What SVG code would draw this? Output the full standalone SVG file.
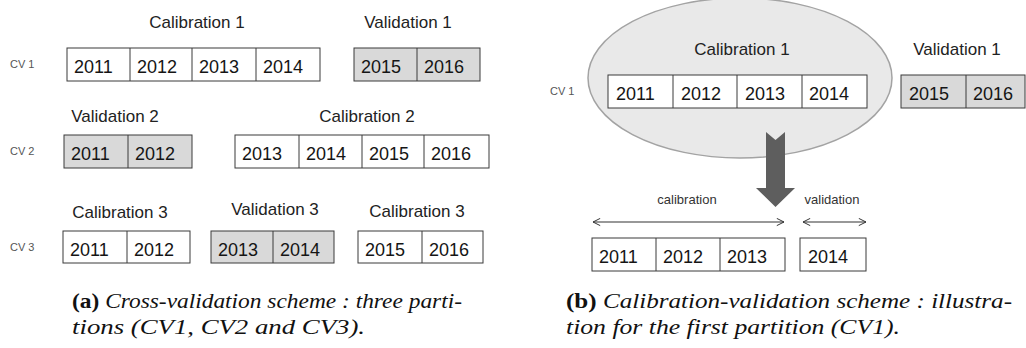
<svg xmlns="http://www.w3.org/2000/svg" width="1026" height="348" viewBox="0 0 1026 348">
<style>
.bx{fill:#fff;stroke:#3a3a3a;stroke-width:1}
.gx{fill:#d9d9d9;stroke:#3a3a3a;stroke-width:1}
.dv{stroke:#3a3a3a;stroke-width:1}
.yr{font-family:"Liberation Sans",Arial,sans-serif;font-size:18px;fill:#151515}
.lb{font-family:"Liberation Sans",Arial,sans-serif;font-size:17px;fill:#222}
.sm{font-family:"Liberation Sans",Arial,sans-serif;font-size:13px;fill:#333}
.cv{font-family:"Liberation Sans",Arial,sans-serif;font-size:11px;fill:#555}
.cap{font-family:"Liberation Serif","Times New Roman",serif;font-size:20px;fill:#111;font-style:italic}
.b{font-weight:bold;font-style:normal}
.thin{stroke:#333;stroke-width:1.1;fill:none}
</style>
<defs>
<marker id="chev" viewBox="0 0 10 10" refX="9" refY="5" markerWidth="9" markerHeight="9" markerUnits="userSpaceOnUse" orient="auto-start-reverse">
<path d="M1,1 L9,5 L1,9" fill="none" stroke="#333" stroke-width="1.1"/>
</marker>
</defs>
<rect width="1026" height="348" fill="#fff"/>

<!-- Panel (a) -->
<g id="cv-labels-a">
<text class="cv" x="10" y="68">CV 1</text>
<text class="cv" x="10" y="155">CV 2</text>
<text class="cv" x="10" y="251">CV 3</text>
</g>

<g id="cal1">
<text class="lb" x="197" y="28" text-anchor="middle">Calibration 1</text>
<rect class="bx" x="67" y="48" width="253" height="33"/>
<line class="dv" x1="130" y1="48" x2="130" y2="81"/>
<line class="dv" x1="192" y1="48" x2="192" y2="81"/>
<line class="dv" x1="256" y1="48" x2="256" y2="81"/>
<text class="yr" x="74" y="73">2011</text>
<text class="yr" x="137" y="73">2012</text>
<text class="yr" x="199" y="73">2013</text>
<text class="yr" x="263" y="73">2014</text>
</g>

<g id="val1">
<text class="lb" x="408" y="28" text-anchor="middle">Validation 1</text>
<rect class="gx" x="354" y="48" width="126" height="33"/>
<line class="dv" x1="417" y1="48" x2="417" y2="81"/>
<text class="yr" x="361" y="73">2015</text>
<text class="yr" x="424" y="73">2016</text>
</g>

<g id="val2">
<text class="lb" x="115" y="122" text-anchor="middle">Validation 2</text>
<rect class="gx" x="64" y="135" width="128" height="33"/>
<line class="dv" x1="128" y1="135" x2="128" y2="168"/>
<text class="yr" x="71" y="160">2011</text>
<text class="yr" x="135" y="160">2012</text>
</g>

<g id="cal2">
<text class="lb" x="367" y="122" text-anchor="middle">Calibration 2</text>
<rect class="bx" x="235" y="135" width="254" height="33"/>
<line class="dv" x1="299" y1="135" x2="299" y2="168"/>
<line class="dv" x1="362" y1="135" x2="362" y2="168"/>
<line class="dv" x1="424" y1="135" x2="424" y2="168"/>
<text class="yr" x="242" y="160">2013</text>
<text class="yr" x="306" y="160">2014</text>
<text class="yr" x="369" y="160">2015</text>
<text class="yr" x="431" y="160">2016</text>
</g>

<g id="cal3a">
<text class="lb" x="120" y="218" text-anchor="middle">Calibration 3</text>
<rect class="bx" x="63" y="231" width="127" height="32"/>
<line class="dv" x1="127" y1="231" x2="127" y2="263"/>
<text class="yr" x="70" y="256">2011</text>
<text class="yr" x="134" y="256">2012</text>
</g>

<g id="val3">
<text class="lb" x="275" y="215" text-anchor="middle">Validation 3</text>
<rect class="gx" x="211" y="231" width="123" height="32"/>
<line class="dv" x1="273" y1="231" x2="273" y2="263"/>
<text class="yr" x="218" y="256">2013</text>
<text class="yr" x="280" y="256">2014</text>
</g>

<g id="cal3b">
<text class="lb" x="417" y="217" text-anchor="middle">Calibration 3</text>
<rect class="bx" x="358" y="231" width="125" height="32"/>
<line class="dv" x1="422" y1="231" x2="422" y2="263"/>
<text class="yr" x="365" y="256">2015</text>
<text class="yr" x="429" y="256">2016</text>
</g>

<g id="caption-a">
<text class="cap" x="72" y="308" textLength="390" lengthAdjust="spacingAndGlyphs"><tspan class="b">(a)</tspan> Cross-validation scheme :  three parti-</text>
<text class="cap" x="72" y="334" textLength="293" lengthAdjust="spacingAndGlyphs">tions (CV1, CV2 and CV3).</text>
</g>

<!-- Panel (b) -->
<g id="cal1-ellipse">
<ellipse cx="740" cy="78" rx="152" ry="80" fill="#e9e9e9" stroke="#a3a3a3" stroke-width="1.5"/>
<text class="lb" x="742" y="55" text-anchor="middle">Calibration 1</text>
<rect class="bx" x="608" y="75" width="259" height="33"/>
<line class="dv" x1="673" y1="75" x2="673" y2="108"/>
<line class="dv" x1="737" y1="75" x2="737" y2="108"/>
<line class="dv" x1="802" y1="75" x2="802" y2="108"/>
<text class="yr" x="616" y="100">2011</text>
<text class="yr" x="681" y="100">2012</text>
<text class="yr" x="745" y="100">2013</text>
<text class="yr" x="809" y="100">2014</text>
</g>
<text class="cv" x="550" y="95">CV 1</text>

<g id="val1-b">
<text class="lb" x="957" y="55" text-anchor="middle">Validation 1</text>
<rect class="gx" x="901" y="75" width="124" height="33"/>
<line class="dv" x1="966" y1="75" x2="966" y2="108"/>
<text class="yr" x="909" y="100">2015</text>
<text class="yr" x="973" y="100">2016</text>
</g>

<g id="connectors">
<polygon points="766,132 775.5,140 785,132 785,188 795,188 775.5,207 756,188 766,188" fill="#5e5e5e"/>
<line class="thin" x1="593" y1="222" x2="784" y2="222" marker-start="url(#chev)" marker-end="url(#chev)"/>
<line class="thin" x1="803" y1="222" x2="866" y2="222" marker-start="url(#chev)" marker-end="url(#chev)"/>
</g>

<g id="calib-label">
<text class="sm" x="687" y="204" text-anchor="middle">calibration</text>
</g>
<g id="valid-label">
<text class="sm" x="832" y="204" text-anchor="middle">validation</text>
</g>

<g id="calib-years">
<rect class="bx" x="592" y="238" width="193" height="33"/>
<line class="dv" x1="656" y1="238" x2="656" y2="271"/>
<line class="dv" x1="720" y1="238" x2="720" y2="271"/>
<text class="yr" x="599" y="263">2011</text>
<text class="yr" x="663" y="263">2012</text>
<text class="yr" x="727" y="263">2013</text>
</g>
<g id="valid-year">
<rect class="bx" x="800" y="238" width="66" height="33"/>
<text class="yr" x="808" y="263">2014</text>
</g>

<g id="caption-b">
<text class="cap" x="566" y="308" textLength="446" lengthAdjust="spacingAndGlyphs"><tspan class="b">(b)</tspan> Calibration-validation scheme : illustra-</text>
<text class="cap" x="566" y="334" textLength="334" lengthAdjust="spacingAndGlyphs">tion for the first partition (CV1).</text>
</g>
</svg>
